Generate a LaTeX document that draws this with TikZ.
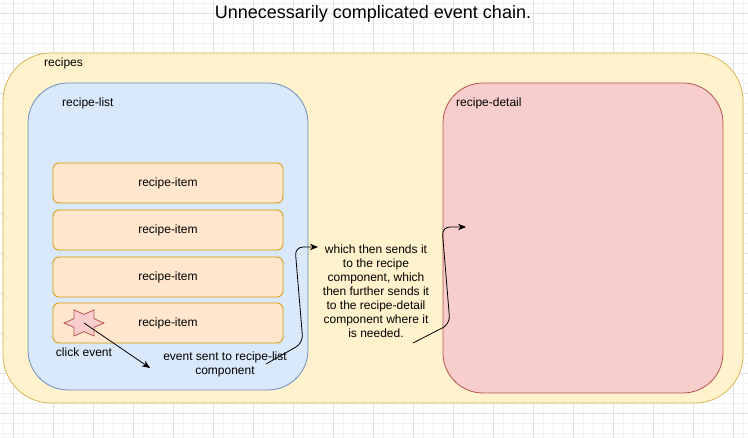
\documentclass[tikz,border=0pt]{standalone}
\usepackage{fontspec}
\setmainfont{Liberation Sans}
\usepackage{xcolor}
\usetikzlibrary{arrows.meta}
\definecolor{YelFill}{HTML}{FFF2CC}
\definecolor{YelLine}{HTML}{D6B656}
\definecolor{BluFill}{HTML}{DAE8FC}
\definecolor{BluLine}{HTML}{6C8EBF}
\definecolor{RedFill}{HTML}{F8CECC}
\definecolor{RedLine}{HTML}{B85450}
\definecolor{OraFill}{HTML}{FFE6CC}
\definecolor{OraLine}{HTML}{D79B00}
\tikzset{
    MinorGrid/.style = {draw=black!5,line width=0.6pt},
    MajorGrid/.style = {draw=black!12,line width=0.6pt},
    Box/.style = {draw,rectangle,line width=0.8pt,inner sep=0pt},
    Item/.style = {Box,fill=OraFill,draw=OraLine,rounded corners=6pt,
        minimum width=230pt,minimum height=40pt},
    Txt/.style = {font=\fontsize{12}{14}\selectfont,inner sep=0pt},
    Link/.style = {draw,line width=0.8pt,-{Stealth[length=8pt,width=6.5pt]}}
}
\begin{document}
\begin{tikzpicture}[x=1pt,y=-1pt]
        \useasboundingbox (0,0) rectangle (748,438);
        \foreach \X in {3,13,...,743}
            {\draw[MinorGrid] (\X,0) -- (\X,438);}
        \foreach \Y in {3,13,...,433}
            {\draw[MinorGrid] (0,\Y) -- (748,\Y);}
        \foreach \X in {13,53,...,733}
            {\draw[MajorGrid] (\X,0) -- (\X,438);}
        \foreach \Y in {13,53,...,413}
            {\draw[MajorGrid] (0,\Y) -- (748,\Y);}
        \node[font=\fontsize{18}{22}\selectfont] (title) at (373,14) {Unnecessarily complicated event chain.};
        \node[Box,fill=YelFill,draw=YelLine,rounded corners=48pt,
            minimum width=740pt,minimum height=350pt] (recipes) at (373,228) {};
        \node[Box,fill=BluFill,draw=BluLine,rounded corners=40pt,
            minimum width=280pt,minimum height=307pt] (list) at (168,236.5) {};
        \node[Box,fill=RedFill,draw=RedLine,rounded corners=40pt,
            minimum width=280pt,minimum height=310pt] (detail) at (583,238) {};
        \node[Txt,anchor=west] (recipeslabel) at (44,63) {recipes};
        \node[Txt,anchor=west] (listlabel) at (62,103) {recipe-list};
        \node[Txt,anchor=west] (detaillabel) at (456,103) {recipe-detail};
        \foreach \Y [count=\i] in {183,230,277,323}
            {\node[Item,Txt] (item\i) at (168,\Y) {recipe-item};}
        \coordinate (click) at (84,323);
        \draw[fill=RedFill,draw=RedLine,line width=0.8pt,shift={(click)}]
            (0:20 and 15) \foreach \A in {0,60,...,300}
            {-- (\A:20 and 15) -- (\A+30:11.5 and 8.7)} -- cycle;
        \node[Txt] (clicklabel) at (84,352) {click event};
        \node[Txt,align=center] (sentlabel) at (225,364) {event sent to recipe-list\\component};
        \node[Txt,align=center] (chain) at (376,291) {which then sends it\\to the recipe\\component, which\\then further sends it\\to the recipe-detail\\component where it\\is needed.};
        \coordinate (sent) at (150,368);
        \coordinate (listout) at (266,364);
        \coordinate (chainin) at (318,247);
        \coordinate (chainout) at (413,343);
        \coordinate (detailin) at (466,227);
        \draw[Link] (click) -- (sent);
        \draw[Link,rounded corners=8pt] (listout) -- (303,343) -- (295,247) -- (chainin);
        \draw[Link,rounded corners=8pt] (chainout) -- (450,324) -- (442,227) -- (detailin);
\end{tikzpicture}
\end{document}
